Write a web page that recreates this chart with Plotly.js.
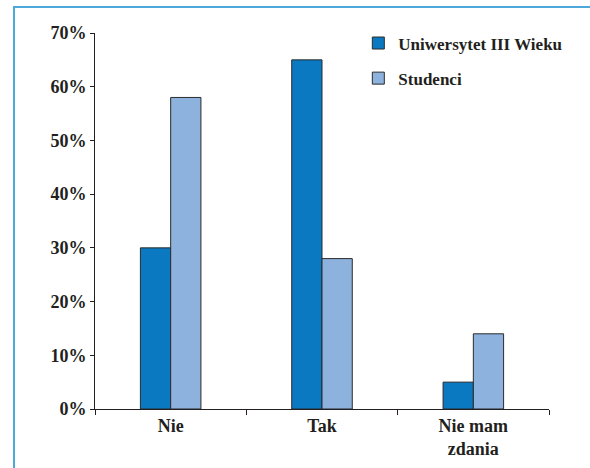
<!DOCTYPE html>
<html>
<head>
<meta charset="utf-8">
<script src="https://cdn.plot.ly/plotly-3.0.1.min.js"></script>
<style>
  html, body { margin: 0; padding: 0; background: #fff; }
  #wrap { position: relative; width: 590px; height: 468px; }
  #chart { width: 590px; height: 468px; }
  #frame { position: absolute; left: 13px; top: 6px; right: 0; bottom: 0;
           border-left: 2px solid #4ba8d9; border-top: 2px solid #4ba8d9;
           pointer-events: none; }
</style>
</head>
<body>
<div id="wrap">
  <div id="chart"></div>
  <div id="frame"></div>
</div>
<script>
const categories = ["Nie", "Tak", "Nie mam<br>zdania"];
const seriesNames = ["Uniwersytet III Wieku", "Studenci"];
const uniwersytet = [30, 65, 5];
const studenci = [58, 28, 14];
const yTickValues = [0, 10, 20, 30, 40, 50, 60, 70];
const yTickLabels = ["0%", "10%", "20%", "30%", "40%", "50%", "60%", "70%"];

const fam = "Liberation Serif";
const font = { family: fam, size: 18, color: "#231f20", weight: "bold" };

const traces = [
  { type: "bar", name: seriesNames[0], x: categories, y: uniwersytet, legendgroup: "a",
    marker: { color: "#0a79c2", line: { color: "#2b2b2b", width: 1 } } },
  { type: "bar", name: seriesNames[1], x: categories, y: studenci, legendgroup: "b",
    marker: { color: "#8db2de", line: { color: "#2b2b2b", width: 1 } } }
];

const layout = {
  width: 590, height: 468,
  margin: { l: 95, r: 41, t: 33, b: 59 },
  paper_bgcolor: "#fff", plot_bgcolor: "#fff",
  font: font,
  barmode: "group",
  bargap: 0.6, bargroupgap: 0,
  showlegend: true,
  legend: { x: 0.58, y: 1.02, xanchor: "left", yanchor: "top",
            traceorder: "grouped", tracegroupgap: 10,
            font: { family: fam, size: 17, color: "#231f20", weight: "bold" },
            bgcolor: "rgba(0,0,0,0)" },
  xaxis: { type: "category", showline: true, linecolor: "#231f20", linewidth: 1,
           ticks: "outside", tickson: "boundaries", ticklen: 5, tickcolor: "#231f20",
           showgrid: false, zeroline: false, tickfont: font, fixedrange: true },
  yaxis: { range: [0, 70], tickvals: yTickValues, ticktext: yTickLabels,
           showline: true, linecolor: "#231f20", linewidth: 1,
           ticks: "outside", ticklen: 4, tickcolor: "#231f20",
           showgrid: false, zeroline: false, tickfont: font, fixedrange: true }
};

Plotly.newPlot("chart", traces, layout, { displayModeBar: false, staticPlot: true });
</script>
</body>
</html>
